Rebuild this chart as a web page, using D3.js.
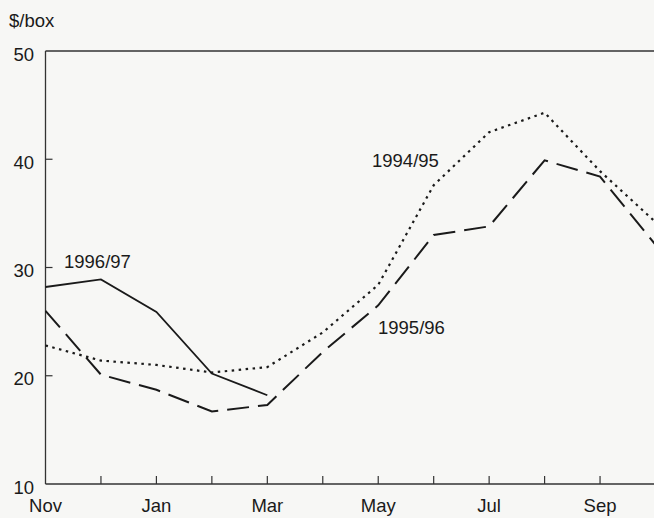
<!DOCTYPE html>
<html><head><meta charset="utf-8">
<script src="https://cdn.jsdelivr.net/npm/d3@7"></script>
<style>
html,body{margin:0;padding:0;background:#f7f7f5;}
svg{display:block;}
text{font-family:"Liberation Sans",Arial,Helvetica,sans-serif;fill:#1a1a1a;}
</style></head>
<body>
<script>
const months = ["Nov","Dec","Jan","Feb","Mar","Apr","May","Jun","Jul","Aug","Sep","Oct"];
const tickLabels = ["Nov","Jan","Mar","May","Jul","Sep"];
const yTicks = [10,20,30,40,50];
const s9495 = [22.8,21.4,21.0,20.3,20.8,24.0,28.4,37.6,42.5,44.3,38.9,34.2];
const s9596 = [26.0,20.1,18.7,16.7,17.3,22.2,26.5,33.0,33.8,39.9,38.4,32.1];
const s9697 = [28.2,28.9,25.9,20.2,18.2];
const seriesNames = ["1994/95","1995/96","1996/97"];

const W=654,H=518;
const svg=d3.select("body").append("svg").attr("width",W).attr("height",H);
const x=d3.scalePoint().domain(months).range([45.5,655.5]);
const y=d3.scaleLinear().domain([10,50]).range([484,51]);
const FS=18.5;

const g=svg.append("g");
// frame
g.append("line").attr("x1",45.5).attr("x2",W).attr("y1",y(50)).attr("y2",y(50)).attr("stroke","#333").attr("stroke-width",1.3);
g.append("line").attr("x1",45.5).attr("x2",45.5).attr("y1",y(50)).attr("y2",y(10)).attr("stroke","#333").attr("stroke-width",1.3);
g.append("line").attr("x1",45.5).attr("x2",W).attr("y1",y(10)).attr("y2",y(10)).attr("stroke","#333").attr("stroke-width",1.3);

// y ticks
g.selectAll(".ytick").data(yTicks.filter(d=>d>10&&d<50)).enter().append("line")
 .attr("x1",45.5).attr("x2",52.5).attr("y1",d=>y(d)).attr("y2",d=>y(d)).attr("stroke","#333").attr("stroke-width",1.2);
g.selectAll(".ylab").data(yTicks).enter().append("text")
 .attr("x",34).attr("y",d=>y(d)+3).attr("dy","0.36em").attr("text-anchor","end").attr("font-size",FS).text(d=>d);
g.append("text").attr("x",9).attr("y",27).attr("font-size",FS).text("$/box");

// x ticks
g.selectAll(".xtick").data(months.slice(1)).enter().append("line")
 .attr("x1",d=>x(d)).attr("x2",d=>x(d)).attr("y1",y(10)).attr("y2",y(10)-8).attr("stroke","#333").attr("stroke-width",1.2);
g.selectAll(".xlab").data(tickLabels).enter().append("text")
 .attr("x",d=>x(d)).attr("y",512).attr("text-anchor","middle").attr("font-size",FS).text(d=>d);

const line=d3.line().x((d,i)=>x(months[i])).y(d=>y(d));
svg.append("clipPath").attr("id","c").append("rect").attr("x",45).attr("y",0).attr("width",W-45).attr("height",H);
const lg=svg.append("g").attr("clip-path","url(#c)");
lg.append("path").datum(s9495).attr("d",line).attr("fill","none").attr("stroke","#1a1a1a").attr("stroke-width",2.2).attr("stroke-dasharray","2.5,4.5");
lg.append("path").datum(s9596).attr("d",line).attr("fill","none").attr("stroke","#1a1a1a").attr("stroke-width",2).attr("stroke-dasharray","22,9");
lg.append("path").datum(s9697).attr("d",line).attr("fill","none").attr("stroke","#1a1a1a").attr("stroke-width",1.8);

g.append("text").attr("x",372).attr("y",167).attr("font-size",FS).text(seriesNames[0]);
g.append("text").attr("x",378).attr("y",334).attr("font-size",FS).text(seriesNames[1]);
g.append("text").attr("x",64).attr("y",268).attr("font-size",FS).text(seriesNames[2]);
</script>
</body></html>
